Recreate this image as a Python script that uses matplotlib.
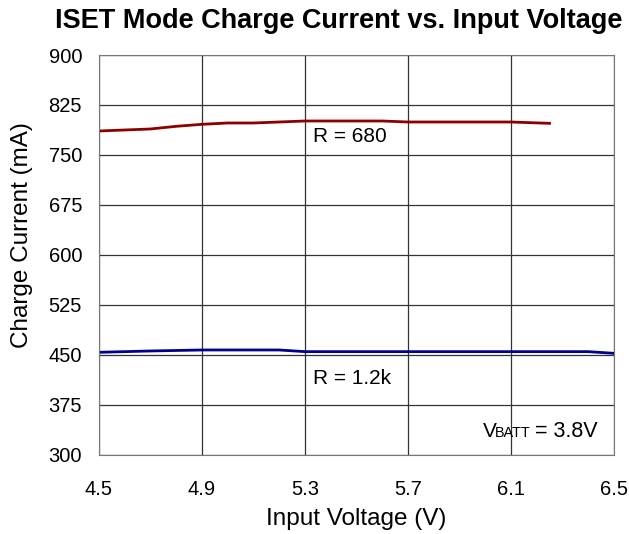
import matplotlib.pyplot as plt

plt.rcParams['font.family'] = ['Liberation Sans', 'DejaVu Sans']

# R = 680 curve
v_680 = [4.5, 4.7, 4.8, 4.9, 5.0, 5.1, 5.3, 5.6, 5.7, 6.1, 6.25]
i_680 = [786, 789, 793, 796, 798, 798, 801, 801, 799.5, 799.5, 797.5]

# R = 1.2k curve
v_1k2 = [4.5, 4.7, 4.9, 5.2, 5.3, 5.7, 6.1, 6.4, 6.5]
i_1k2 = [454, 456, 457.5, 457.5, 455, 455, 455, 455, 452.5]

x_ticks = [4.5, 4.9, 5.3, 5.7, 6.1, 6.5]
y_ticks = [300, 375, 450, 525, 600, 675, 750, 825, 900]

fig = plt.figure(figsize=(6.29, 5.34), dpi=100)
ax = fig.add_axes([0.157, 0.148, 0.819, 0.749])

ax.plot(v_680, i_680, color="#8b0000", lw=2)
ax.plot(v_1k2, i_1k2, color="#00008b", lw=2)

ax.set_xlim(4.5, 6.5)
ax.set_ylim(300, 900)
ax.set_xticks(x_ticks)
ax.set_yticks(y_ticks)
ax.set_xticklabels([f"{t:.1f}" for t in x_ticks])
ax.grid(True, color="#333333", lw=0.9)
ax.tick_params(labelsize=14.5, length=0)
ax.tick_params(axis="x", pad=18)
ax.tick_params(axis="y", pad=12)
for s in ax.spines.values():
    s.set_color("#777777")

ax.set_xlabel("Input Voltage (V)", fontsize=17.5)
ax.set_ylabel("Charge Current (mA)", fontsize=17.5)
ax.xaxis.set_label_coords(0.5, -0.1325)
ax.yaxis.set_label_coords(-0.128, 0.55)
fig.text(0.539, 0.961, "ISET Mode Charge Current vs. Input Voltage",
         fontsize=19.5, fontweight="bold", ha="center", va="center")

ax.text(5.33, 777, "R = 680", fontsize=15, va="center")
ax.text(5.33, 415, "R = 1.2k", fontsize=15, va="center")

# V_BATT label, small caps style subscript
ax.text(5.991, 327, "V", fontsize=15, va="baseline")
ax.text(6.038, 327, "BATT", fontsize=10.4, va="baseline")
ax.text(6.193, 327, "= 3.8V", fontsize=15.5, va="baseline")

plt.savefig("out.png")
